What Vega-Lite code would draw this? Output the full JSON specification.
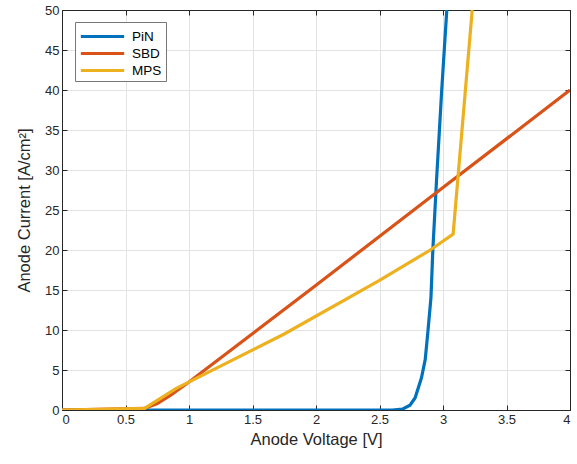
{
  "$schema": "https://vega.github.io/schema/vega-lite/v6.json",
  "width": 508,
  "height": 400,
  "autosize": {"type": "none"},
  "padding": {"left": 62, "top": 10, "right": 7, "bottom": 54},
  "background": "white",
  "config": {
    "font": "Liberation Sans",
    "view": {"stroke": "#262626", "strokeWidth": 1},
    "axis": {
      "labelFont": "Liberation Sans",
      "titleFont": "Liberation Sans",
      "labelFontSize": 13,
      "titleFontSize": 16.5,
      "titleFontWeight": "normal",
      "labelColor": "#262626",
      "titleColor": "#262626",
      "domainColor": "#262626",
      "tickColor": "#262626",
      "gridColor": "#e3e3e3",
      "tickSize": -5,
      "format": "~g"
    }
  },
  "data": {
    "values": [
      {"s": "PiN", "v": 0, "i": 0},
      {"s": "PiN", "v": 2.6, "i": 0},
      {"s": "PiN", "v": 2.68, "i": 0.1},
      {"s": "PiN", "v": 2.74, "i": 0.6},
      {"s": "PiN", "v": 2.78, "i": 1.5},
      {"s": "PiN", "v": 2.83, "i": 4},
      {"s": "PiN", "v": 2.86, "i": 6.3},
      {"s": "PiN", "v": 2.88, "i": 9.6},
      {"s": "PiN", "v": 2.905, "i": 14},
      {"s": "PiN", "v": 2.92, "i": 20},
      {"s": "PiN", "v": 2.95, "i": 29},
      {"s": "PiN", "v": 2.99, "i": 40},
      {"s": "PiN", "v": 3.03, "i": 50},
      {"s": "SBD", "v": 0, "i": 0},
      {"s": "SBD", "v": 0.65, "i": 0.2},
      {"s": "SBD", "v": 0.75, "i": 0.8},
      {"s": "SBD", "v": 0.85, "i": 1.8},
      {"s": "SBD", "v": 1, "i": 3.5},
      {"s": "SBD", "v": 2, "i": 15.6},
      {"s": "SBD", "v": 3, "i": 27.8},
      {"s": "SBD", "v": 4, "i": 40},
      {"s": "MPS", "v": 0, "i": 0},
      {"s": "MPS", "v": 0.65, "i": 0.2},
      {"s": "MPS", "v": 0.9, "i": 2.7},
      {"s": "MPS", "v": 1.75, "i": 9.5},
      {"s": "MPS", "v": 2.5, "i": 16.2},
      {"s": "MPS", "v": 2.9, "i": 20},
      {"s": "MPS", "v": 3.08, "i": 22},
      {"s": "MPS", "v": 3.23, "i": 50}
    ]
  },
  "layer": [
    {
      "mark": {"type": "line", "strokeWidth": 3.2, "clip": true},
      "encoding": {
        "x": {
          "field": "v", "type": "quantitative",
          "scale": {"domain": [0, 4], "nice": false, "zero": false},
          "axis": {"title": "Anode Voltage [V]", "values": [0, 0.5, 1, 1.5, 2, 2.5, 3, 3.5, 4], "labelPadding": 8, "titlePadding": 5}
        },
        "y": {
          "field": "i", "type": "quantitative",
          "scale": {"domain": [0, 50], "nice": false},
          "axis": {"title": "Anode Current [A/cm²]", "values": [0, 5, 10, 15, 20, 25, 30, 35, 40, 45, 50], "labelPadding": 8, "titlePadding": 12}
        },
        "color": {
          "field": "s", "type": "nominal",
          "scale": {"domain": ["PiN", "SBD", "MPS"], "range": ["#0072BD", "#D95319", "#EDB120"]},
          "legend": {
            "title": null,
            "orient": "none",
            "legendX": 13,
            "legendY": 12,
            "symbolType": "M-1,0H4",
            "symbolSize": 300,
            "symbolStrokeWidth": 3,
            "symbolFillColor": "transparent",
            "labelFontSize": 13.5,
            "labelColor": "#000000",
            "labelFont": "Liberation Sans",
            "labelOffset": 32,
            "strokeColor": "#777777",
            "fillColor": "white",
            "padding": 4,
            "rowPadding": 0
          }
        }
      }
    },
    {
      "mark": {"type": "line", "opacity": 0},
      "encoding": {
        "x": {"field": "v", "type": "quantitative", "axis": {"orient": "top", "labels": false, "title": null, "grid": false, "values": [0, 0.5, 1, 1.5, 2, 2.5, 3, 3.5, 4]}},
        "y": {"field": "i", "type": "quantitative", "axis": {"orient": "right", "labels": false, "title": null, "grid": false, "values": [0, 5, 10, 15, 20, 25, 30, 35, 40, 45, 50]}}
      }
    }
  ],
  "resolve": {"axis": {"x": "independent", "y": "independent"}}
}
